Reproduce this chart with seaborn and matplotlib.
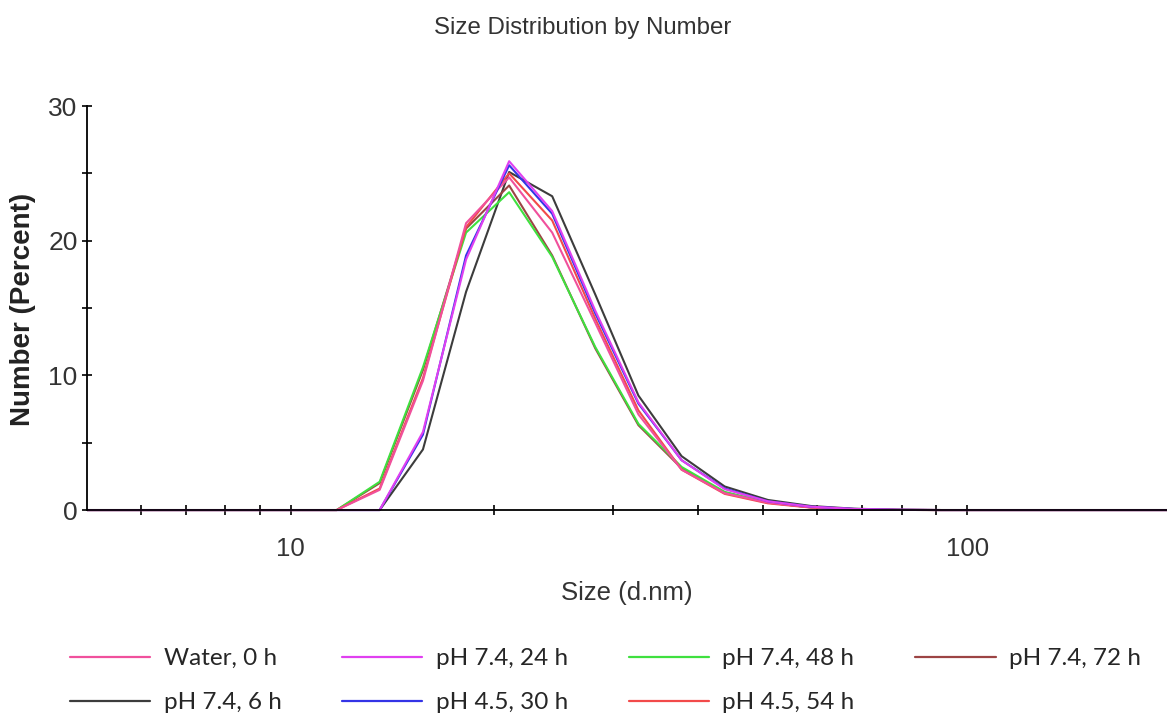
import numpy as np
import pandas as pd
import matplotlib
matplotlib.use("Agg")
import matplotlib.pyplot as plt
import seaborn as sns
from matplotlib.ticker import FixedLocator, FixedFormatter, NullFormatter
from matplotlib.lines import Line2D

# ---------------- data ----------------
sizes = [4.849, 5.615, 6.503, 7.531, 8.721, 10.10, 11.70, 13.54, 15.69, 18.17,
         21.04, 24.36, 28.21, 32.67, 37.84, 43.82, 50.75, 58.77, 68.06, 78.82,
         91.28, 105.7, 122.4, 141.8, 164.2, 190.1, 220.2]

water_0h = [0]*7 + [1.5, 9.6, 21.3, 24.7, 20.6, 13.9, 7.1, 3.0, 1.25, 0.55, 0.2, 0.06, 0.01] + [0]*7
ph74_24h = [0]*7 + [0.0, 5.8, 18.6, 25.9, 22.2, 14.8, 8.0, 3.7, 1.55, 0.65, 0.25, 0.08, 0.02] + [0]*7
ph74_48h = [0]*7 + [2.1, 10.6, 20.6, 23.6, 18.8, 12.1, 6.4, 3.2, 1.35, 0.55, 0.2, 0.06, 0.01] + [0]*7
ph74_72h = [0]*7 + [2.0, 10.4, 20.9, 24.1, 18.9, 12.0, 6.3, 3.1, 1.3, 0.55, 0.2, 0.06, 0.01] + [0]*7
ph74_6h  = [0]*7 + [0.0, 4.5, 16.2, 25.1, 23.3, 16.0, 8.5, 4.0, 1.75, 0.75, 0.3, 0.1, 0.02] + [0]*7
ph45_30h = [0]*7 + [0.0, 5.6, 18.9, 25.6, 22.0, 14.6, 7.9, 3.7, 1.6, 0.65, 0.25, 0.08, 0.02] + [0]*7
ph45_54h = [0]*7 + [1.6, 9.8, 21.0, 25.0, 21.5, 14.2, 7.4, 3.0, 1.2, 0.5, 0.18, 0.05, 0.01] + [0]*7

labels = ["Water, 0 h", "pH 7.4, 24 h", "pH 7.4, 48 h", "pH 7.4, 72 h",
          "pH 7.4, 6 h", "pH 4.5, 30 h", "pH 4.5, 54 h"]
series = [water_0h, ph74_24h, ph74_48h, ph74_72h, ph74_6h, ph45_30h, ph45_54h]
colors = ["#f0509c", "#e040f0", "#3fe03f", "#9c4444", "#3c3c3c", "#3434e6", "#f24a4a"]

# draw order (last on top)
draw_order = ["pH 7.4, 6 h", "pH 7.4, 72 h", "pH 7.4, 48 h", "pH 4.5, 54 h",
              "Water, 0 h", "pH 4.5, 30 h", "pH 7.4, 24 h"]

rows = []
for lab, vals in zip(labels, series):
    for s, v in zip(sizes, vals):
        rows.append({"Size": s, "Number": v, "Sample": lab})
df = pd.DataFrame(rows)
palette = dict(zip(labels, colors))

# ---------------- figure ----------------
sns.set_theme(style="white")
plt.rcParams["font.family"] = ["Liberation Sans", "DejaVu Sans"]

fig = plt.figure(figsize=(11.67, 7.18), dpi=100)
ax = fig.add_axes([87/1167, 1-513/718, (1167-87)/1167, (513-106)/718])

sns.lineplot(data=df, x="Size", y="Number", hue="Sample", hue_order=draw_order,
             palette=palette, linewidth=1.5, legend=False, ax=ax,
             estimator=None, sort=True)

ax.set_xscale("log")
ax.set_xlim(5.0, 197.5)
ax.set_ylim(-0.22, 30)
ax.spines["bottom"].set_position(("data", 0.0))
ax.spines["left"].set_bounds(0, 30)

for sp in ["top", "right"]:
    ax.spines[sp].set_visible(False)
for sp in ["left", "bottom"]:
    ax.spines[sp].set_color("black")
    ax.spines[sp].set_linewidth(1.3)
    ax.spines[sp].set_zorder(3)

ax.xaxis.set_major_locator(FixedLocator([10, 100]))
ax.xaxis.set_major_formatter(FixedFormatter(["10", "100"]))
ax.xaxis.set_minor_locator(FixedLocator([6, 7, 8, 9, 20, 30, 40, 50, 60, 70, 80, 90, 200]))
ax.xaxis.set_minor_formatter(NullFormatter())
ax.yaxis.set_major_locator(FixedLocator([0, 10, 20, 30]))
ax.yaxis.set_minor_locator(FixedLocator([5, 15, 25]))

ax.tick_params(axis="both", which="both", direction="inout", length=7.5, width=1.2,
               color="black", bottom=True, left=True)
ax.tick_params(axis="x", which="major", pad=16, labelsize=18.5, labelcolor="#333333")
ax.tick_params(axis="y", which="major", pad=3, labelsize=19, labelcolor="#333333")

ax.set_xlabel("Size (d.nm)", fontsize=18.5, color="#333333", labelpad=14)
ax.set_ylabel("Number (Percent)", fontsize=20, fontweight="bold", color="#222222", labelpad=9)
fig.text(583/1167, 1-28/718, "Size Distribution by Number", ha="center", va="center",
         fontsize=17.3, color="#333333")

# legend (row-major look, column-major fill)
leg_order = ["Water, 0 h", "pH 7.4, 6 h", "pH 7.4, 24 h", "pH 4.5, 30 h",
             "pH 7.4, 48 h", "pH 4.5, 54 h", "pH 7.4, 72 h"]
handles = [Line2D([], [], color=palette[l], linewidth=1.6) for l in leg_order]
fig.legend(handles, leg_order, loc="upper left", bbox_to_anchor=(70/1167, 1-648/718),
           ncol=4, frameon=False, borderaxespad=0, borderpad=0,
           handlelength=3.3, handletextpad=0.55, columnspacing=2.5, labelspacing=0.96,
           prop={"family": ["Lato", "DejaVu Sans"], "size": 17.5})

fig.savefig("out.png", dpi=100)
